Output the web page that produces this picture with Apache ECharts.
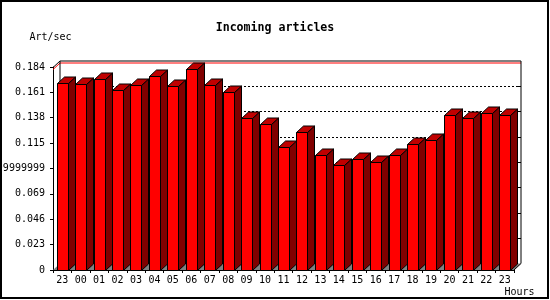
<!DOCTYPE html>
<html>
<head>
<meta charset="utf-8">
<script src="https://cdn.jsdelivr.net/npm/echarts@6/dist/echarts.min.js"></script>
<style>html,body{margin:0;padding:0;background:#fff}#c{width:550px;height:300px}</style>
</head>
<body>
<div id="c"></div>
<script>
const chartTitle = 'Incoming articles';
const yName = 'Art/sec';
const xName = 'Hours';
const categories = ['23','00','01','02','03','04','05','06','07','08','09','10','11','12','13','14','15','16','17','18','19','20','21','22','23'];
const values = [0.1698,0.1689,0.1734,0.1628,0.1680,0.1762,0.1671,0.1825,0.1680,0.1616,0.1380,0.1325,0.1116,0.1252,0.1043,0.0952,0.1007,0.0982,0.1043,0.1143,0.1182,0.1401,0.1382,0.1425,0.1407];
const yTickLabels = ['0','0.023','0.046','0.069','0.09199999999','0.115','0.138','0.161','0.184'];
const yMax = 0.184, yStep = 0.023;

const DX = 7, DY = 6.5;
const FONT = 'DejaVu Sans Mono';
const chart = echarts.init(document.getElementById('c'), null, {renderer: 'canvas'});
const maxVal = Math.max.apply(null, values);
const tickVals = yTickLabels.map((_, i) => i * yStep);

function backdrop(params, api) {
  const cs = params.coordSys;
  const x0 = cs.x, x1 = cs.x + cs.width;
  const yB = api.coord([0, 0])[1];
  const yT = api.coord([0, yMax])[1];
  const ch = [];
  ch.push({type: 'polygon', shape: {points: [[x0 + DX, yT - DY], [x1 + DX, yT - DY], [x1 + DX, yB - DY], [x0 + DX, yB - DY]]}, style: {fill: '#fff'}});
  ch.push({type: 'polygon', shape: {points: [[x0, yB], [x1, yB], [x1 + DX, yB - DY], [x0 + DX, yB - DY]]}, style: {fill: '#808080'}});
  tickVals.forEach((v, i) => {
    if (i === 0 || i === tickVals.length - 1) return;
    const y = Math.round(api.coord([0, v])[1] - DY) + 0.5;
    ch.push({type: 'line', shape: {x1: x0 + DX, y1: y, x2: x1 + DX, y2: y}, style: {stroke: '#000', lineWidth: 1, lineDash: [2, 2]}});
    ch.push({type: 'line', shape: {x1: x1 + DX - 3, y1: y, x2: x1 + DX, y2: y}, style: {stroke: '#000', lineWidth: 1}});
  });
  const ym = Math.round(api.coord([0, maxVal])[1]) + 0.5;
  ch.push({type: 'polyline', shape: {points: [[x0, ym], [x0 + DX, ym - DY], [x1 + DX, ym - DY]]}, style: {stroke: '#ff0000', lineWidth: 1, fill: null}});
  const yt = Math.round(yT) + 0.5;
  ch.push({type: 'polyline', shape: {points: [[x0, yt], [x0 + DX, yt - DY], [x1 + DX, yt - DY], [x1 + DX, yB - DY], [x1, yB]]}, style: {stroke: '#000', lineWidth: 1, fill: null}});
  ch.push({type: 'line', shape: {x1: x0 + DX, y1: yt - DY, x2: x0 + DX, y2: yB - DY}, style: {stroke: '#000', lineWidth: 1}});
  return {type: 'group', children: ch};
}

function bar3d(params, api) {
  const idx = api.value(0), v = api.value(1);
  const pT = api.coord([idx, v]);
  const pB = api.coord([idx, 0]);
  const bw = api.size([1, 0])[0] * 0.6;
  const xl = Math.round(pT[0] - bw / 2) + 0.5, xr = xl + Math.round(bw);
  const yt = Math.round(pT[1]) + 0.5, yb = Math.round(pB[1]) + 0.5;
  const stroke = {stroke: '#000', lineWidth: 1};
  return {type: 'group', children: [
    {type: 'polygon', shape: {points: [[xr, yt], [xr + DX, yt - DY], [xr + DX, yb - DY], [xr, yb]]}, style: Object.assign({fill: '#800000'}, stroke)},
    {type: 'polygon', shape: {points: [[xl, yt], [xl + DX, yt - DY], [xr + DX, yt - DY], [xr, yt]]}, style: Object.assign({fill: '#c00000'}, stroke)},
    {type: 'rect', shape: {x: xl, y: yt, width: xr - xl, height: yb - yt}, style: Object.assign({fill: '#ff0000'}, stroke)}
  ]};
}

chart.setOption({
  animation: false,
  backgroundColor: '#fff',
  title: {text: chartTitle, left: 'center', top: 17, textStyle: {fontFamily: FONT, fontSize: 11.6, fontWeight: 'bold', color: '#000'}},
  graphic: [
    {type: 'rect', shape: {x: 1, y: 1, width: 547, height: 297}, style: {fill: null, stroke: '#000', lineWidth: 2}, z: 100},
    {type: 'text', x: 519.5, y: 292, style: {text: xName, font: '10px "DejaVu Sans Mono"', fill: '#000', align: 'center', verticalAlign: 'middle'}, z: 100}
  ],
  grid: {left: 53, top: 67, width: 461, height: 203, containLabel: false, outerBoundsMode: 'none'},
  xAxis: {
    type: 'category', data: categories, boundaryGap: true,
    axisLine: {show: true, lineStyle: {color: '#000', width: 1}},
    axisTick: {show: true, length: 3, lineStyle: {color: '#000'}},
    axisLabel: {fontFamily: FONT, fontSize: 10, color: '#000', margin: 5, interval: 0},
    splitLine: {show: false}
  },
  yAxis: {
    type: 'value', min: 0, max: yMax, interval: yStep,
    name: yName, nameLocation: 'end', nameGap: 30,
    nameTextStyle: {fontFamily: FONT, fontSize: 10, color: '#000', align: 'center', verticalAlign: 'middle', padding: [0, 5, 0, 0]},
    axisLine: {show: true, lineStyle: {color: '#000', width: 1}},
    axisTick: {show: true, length: 3, lineStyle: {color: '#000'}},
    axisLabel: {fontFamily: FONT, fontSize: 10, color: '#000', margin: 8, formatter: (val, i) => yTickLabels[i]},
    splitLine: {show: false}
  },
  series: [
    {type: 'custom', renderItem: backdrop, data: [[0, 0]], z: 1, silent: true, clip: false},
    {type: 'custom', renderItem: bar3d, data: values.map((v, i) => [i, v]), z: 2, clip: false}
  ]
});
</script>
</body>
</html>
